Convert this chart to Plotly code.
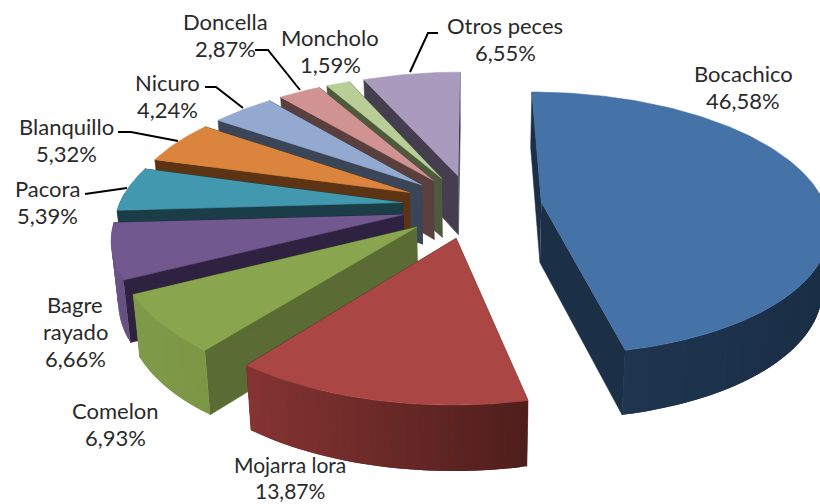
import numpy as np
import plotly.graph_objects as go

names = ["Bocachico", "Mojarra lora", "Comelon", "Bagre rayado", "Pacora", "Blanquillo", "Nicuro", "Doncella", "Moncholo", "Otros peces"]
values = [46.58, 13.87, 6.93, 6.66, 5.39, 5.32, 4.24, 2.87, 1.59, 6.55]

top_col = ["#4572A7", "#AA4643", "#89A54E", "#71588F", "#4198AF", "#DB843D", "#93A9CF", "#D19392", "#B9CD96", "#A99BBD"]
side_col = ["#1B2F47", "#5A2A28", "#5A6B33", "#2F2240", "#1A3D47", "#5C3414", "#3A4557", "#5A3F3F", "#4F5A3C", "#453E4E"]
rim_left = ["#1F3550", "#853432", "#7F9A48", "#6A5386", "#1A3D47", "#5C3414", "#3A4557", "#5A3F3F", "#4F5A3C", "#453E4E"]
rim_right = ["#1A2E45", "#4E1E1C", "#7C9646", "#665082", "#1A3D47", "#5C3414", "#3A4557", "#5A3F3F", "#4F5A3C", "#453E4E"]

label_pos = [(743, 87), (290, 477), (115, 424), (75, 331), (47, 202), (66, 140), (167, 96), (225, 35), (330, 51), (505, 39)]
label_gap = [27, 26, 27, 27, 27, 27, 27, 27, 27, 27]
label_size = [22, 21, 22, 22, 22, 22, 22, 22, 22, 22]
label_txt = ["Bocachico<br>46,58%", "Mojarra lora<br>13,87%", "Comelon<br>6,93%", "Bagre<br>rayado<br>6,66%",
             "Pacora<br>5,39%", "Blanquillo<br>5,32%", "Nicuro<br>4,24%", "Doncella<br>2,87%", "Moncholo<br>1,59%", "Otros peces<br>6,55%"]
leaders = [
    ([410, 428, 438], [72, 33, 33]),
    ([300, 268, 255], [90, 50, 50]),
    ([243, 216, 205], [108, 87, 87]),
    ([178, 131, 118], [141, 132, 132]),
    ([127, 85], [188, 194]),
]

CX, CY, A, B, K, EXP, DEPTH, SHRINK = 472.0, 206.0, 284.0, 129.0, 0.158, 0.2465, 60.0, 0.98


def proj(X, Y, low=False):
    X, Y = np.asarray(X, float), np.asarray(Y, float)
    s = 1.0 / (1.0 + K * Y)
    x = CX + A * X * s
    y = CY - B * Y * s
    if low:
        x = CX + (x - CX) * SHRINK
        y = y + DEPTH * (1 - 0.08 * Y)
    return x, y


def mix(c1, c2, t):
    a = [int(c1[i:i + 2], 16) for i in (1, 3, 5)]
    b = [int(c2[i:i + 2], 16) for i in (1, 3, 5)]
    return "#%02X%02X%02X" % tuple(round(p + (q - p) * t) for p, q in zip(a, b))


fig = go.Figure()


def poly(xs, ys, color, name, lw=0.6):
    fig.add_trace(go.Scatter(x=list(xs), y=list(ys), mode="lines", fill="toself", fillcolor=color,
                             line=dict(color=color, width=lw), hoverinfo="text", text=name, showlegend=False))


total = sum(values)
edges = np.cumsum([0] + values) / total * 2 * np.pi
order = [9, 8, 7, 6, 5, 4, 3, 0, 2, 1]
for i in order:
    a0, a1 = edges[i], edges[i + 1]
    m = (a0 + a1) / 2
    ox, oy = EXP * np.sin(m), EXP * np.cos(m)
    th = np.linspace(a0, a1, max(int((a1 - a0) / 0.02), 6))
    rimX, rimY = ox + np.sin(th), oy + np.cos(th)
    tx, ty = proj(rimX, rimY)
    bx, by = proj(rimX, rimY, True)
    apx, apy = proj([ox], [oy])
    alx, aly = proj([ox], [oy], True)
    # radial walls
    for j in (0, -1):
        poly([apx[0], tx[j], bx[j], alx[0]], [apy[0], ty[j], by[j], aly[0]], side_col[i], names[i])
    # rim wall, front part only, shaded left to right (bands overlap their neighbour to avoid seams)
    vis = np.where(np.cos(th) < 0.08)[0]
    if len(vis) > 1:
        xmin, xmax = tx[vis].min(), tx[vis].max()
        for n in range(vis[0], vis[-1]):
            t = ((tx[n] + tx[n + 1]) / 2 - xmin) / max(xmax - xmin, 1)
            col = mix(rim_left[i], rim_right[i], t)
            e = min(n + 2, vis[-1])
            poly([tx[n], tx[e], bx[e], bx[n]], [ty[n], ty[e], by[e], by[n]], col, names[i], lw=0)
    # top face
    poly(np.r_[apx, tx], np.r_[apy, ty], top_col[i], names[i])

for lx, ly in leaders:
    fig.add_trace(go.Scatter(x=lx, y=ly, mode="lines", line=dict(color="#000000", width=2),
                             hoverinfo="skip", showlegend=False))

for (x, y), gap, size, t in zip(label_pos, label_gap, label_size, label_txt):
    rows = t.split("<br>")
    for r, row in enumerate(rows):
        fig.add_annotation(x=x, y=y + (r - (len(rows) - 1) / 2) * gap, text=row, showarrow=False,
                           xanchor="center", yanchor="middle",
                           font=dict(family="Lato", size=size, color="#2A2A2A"), align="center")

fig.update_layout(width=820, height=504, margin=dict(l=0, r=0, t=0, b=0), plot_bgcolor="white", paper_bgcolor="white",
                  xaxis=dict(range=[0, 820], visible=False, fixedrange=True),
                  yaxis=dict(range=[504, 0], visible=False, fixedrange=True))
fig.write_html("out.html", config=dict(displayModeBar=False),
               post_script="document.body.style.margin='0';document.documentElement.style.overflow='hidden';")
